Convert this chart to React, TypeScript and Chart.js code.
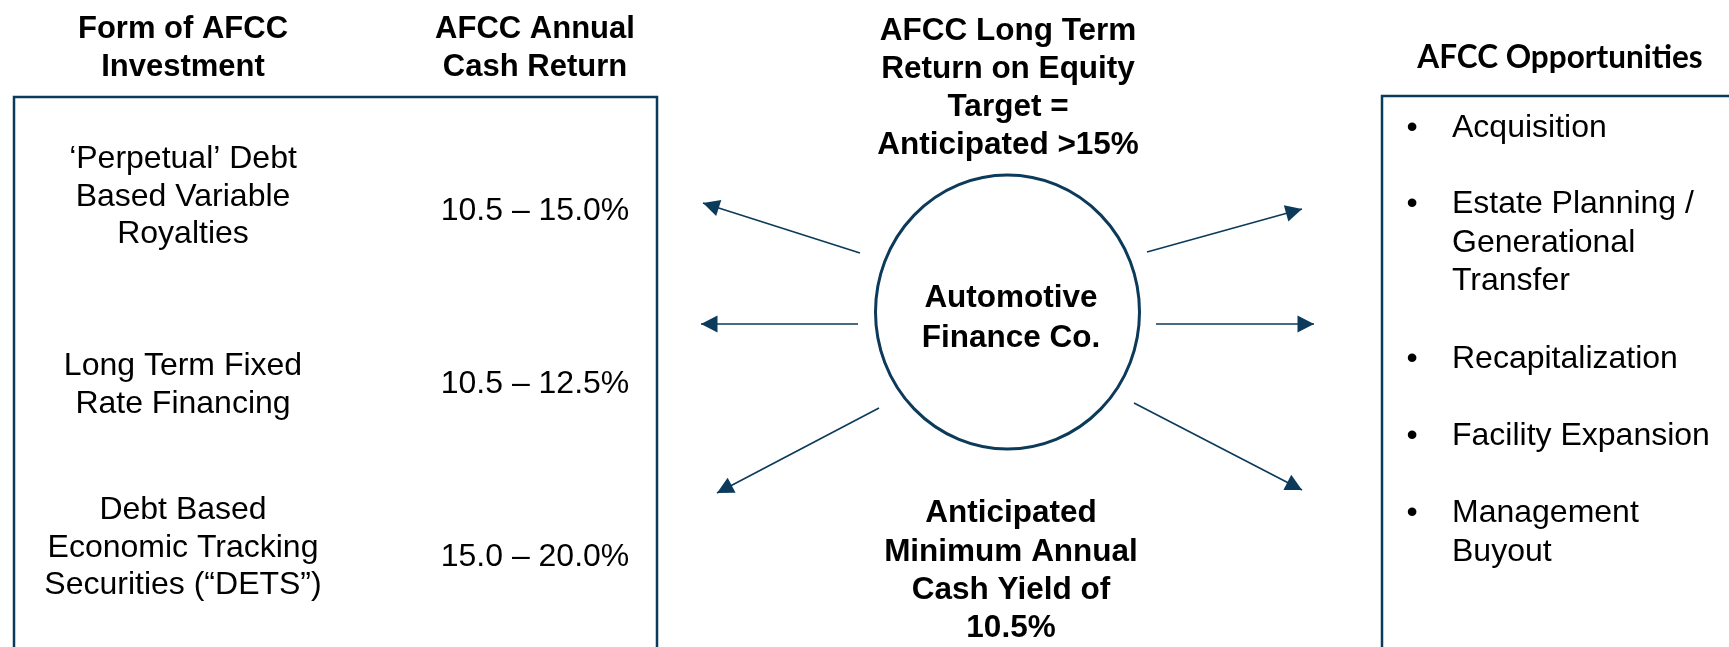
import React, { useEffect, useRef } from "react";
import { Chart, registerables } from "chart.js";

Chart.register(...registerables);

// ---------------- data ----------------
const investmentHeader = ["Form of AFCC", "Investment"];
const returnHeader = ["AFCC Annual", "Cash Return"];
const investmentForms = [
  ["‘Perpetual’ Debt", "Based Variable", "Royalties"],
  ["Long Term Fixed", "Rate Financing"],
  ["Debt Based", "Economic Tracking", "Securities (“DETS”)"],
];
const cashReturns = ["10.5 – 15.0%", "10.5 – 12.5%", "15.0 – 20.0%"];
const roeTarget = ["AFCC Long Term", "Return on Equity", "Target =", "Anticipated >15%"];
const companyName = ["Automotive", "Finance Co."];
const minYield = ["Anticipated", "Minimum Annual", "Cash Yield of", "10.5%"];
const opportunitiesHeader = "AFCC Opportunities";
const opportunities = [
  ["Acquisition"],
  ["Estate Planning /", "Generational", "Transfer"],
  ["Recapitalization"],
  ["Facility Expansion"],
  ["Management", "Buyout"],
];
// arrows in diagram units: [fromX, fromY, toX, toY]
const arrowsOut = [
  [860, 253, 703, 203],
  [858, 324, 701, 324],
  [879, 408, 717, 493],
  [1147, 252, 1302, 209],
  [1156, 324, 1314, 324],
  [1134, 403, 1302, 490],
];

// ---------------- layout / style ----------------
const W = 1729;
const H = 647;
const NAVY = "#0b3a5a";
const SANS = "'Liberation Sans', Arial, sans-serif";
const L = {
  col1X: 183,
  col2X: 535,
  headerBase: [38, 76],
  formFirstBase: [168, 375, 519],
  formLH: 37.7,
  returnBase: [220, 393, 566],
  leftBox: { x0: 14, y0: 97, x1: 657, y1: 700 },
  rightBox: { x0: 1382, y0: 96, x1: 1800, y1: 700 },
  centerX: 1008,
  roeBase: [40, 78, 116, 154],
  circle: { cx: 1007.5, cy: 312, rx: 132, ry: 137 },
  nameX: 1011,
  nameBase: [307, 347],
  yieldBase: [522, 561, 599, 637],
  oppHeaderX: 1560,
  oppHeaderBase: 68,
  bulletX: 1412,
  oppTextX: 1452,
  oppFirstBase: [137, 213, 368, 445, 522],
  oppLH: 38.5,
};

const diagramPlugin = {
  id: "diagram",
  afterDatasetsDraw(chart: any) {
    const { ctx } = chart;
    const xs = chart.scales.x;
    const ys = chart.scales.y;
    const px = (v: number) => xs.getPixelForValue(v);
    const py = (v: number) => ys.getPixelForValue(v);
    ctx.save();

    // arrowheads
    chart.data.datasets.forEach((_: any, i: number) => {
      const meta = chart.getDatasetMeta(i);
      const p0 = meta.data[0];
      const p1 = meta.data[1];
      const a = Math.atan2(p1.y - p0.y, p1.x - p0.x);
      const len = 16.5;
      const half = 8.5;
      const bx = p1.x - Math.cos(a) * len;
      const by = p1.y - Math.sin(a) * len;
      ctx.fillStyle = NAVY;
      ctx.beginPath();
      ctx.moveTo(p1.x, p1.y);
      ctx.lineTo(bx - Math.sin(a) * half, by + Math.cos(a) * half);
      ctx.lineTo(bx + Math.sin(a) * half, by - Math.cos(a) * half);
      ctx.closePath();
      ctx.fill();
    });

    // boxes
    ctx.strokeStyle = NAVY;
    ctx.lineWidth = 2.5;
    const lb = L.leftBox;
    ctx.strokeRect(px(lb.x0), py(lb.y0), px(lb.x1) - px(lb.x0), py(lb.y1) - py(lb.y0));
    const rb = L.rightBox;
    ctx.strokeRect(px(rb.x0), py(rb.y0), px(rb.x1) - px(rb.x0), py(rb.y1) - py(rb.y0));

    // circle
    const c = L.circle;
    ctx.lineWidth = 3;
    ctx.beginPath();
    ctx.ellipse(
      px(c.cx),
      py(c.cy),
      Math.abs(px(c.rx) - px(0)),
      Math.abs(py(c.ry) - py(0)),
      0,
      0,
      Math.PI * 2
    );
    ctx.stroke();

    // text
    ctx.fillStyle = "#000";
    ctx.textBaseline = "alphabetic";
    const text = (s: string, x: number, y: number, font: string, align: CanvasTextAlign) => {
      ctx.font = font;
      ctx.textAlign = align;
      ctx.fillText(s, px(x), py(y));
    };
    const boldHdr = `bold 31px ${SANS}`;
    const boldCtr = `bold 31.5px ${SANS}`;
    const body = `32px ${SANS}`;

    investmentHeader.forEach((s, i) => text(s, L.col1X, L.headerBase[i], boldHdr, "center"));
    returnHeader.forEach((s, i) => text(s, L.col2X, L.headerBase[i], boldHdr, "center"));
    investmentForms.forEach((lines, k) =>
      lines.forEach((s, i) => text(s, L.col1X, L.formFirstBase[k] + i * L.formLH, body, "center"))
    );
    cashReturns.forEach((s, k) => text(s, L.col2X, L.returnBase[k], body, "center"));

    roeTarget.forEach((s, i) => text(s, L.centerX, L.roeBase[i], boldCtr, "center"));
    companyName.forEach((s, i) => text(s, L.nameX, L.nameBase[i], boldCtr, "center"));
    minYield.forEach((s, i) => text(s, L.nameX, L.yieldBase[i], boldCtr, "center"));

    text(opportunitiesHeader, L.oppHeaderX, L.oppHeaderBase, `bold 31.5px Lato, 'Open Sans', sans-serif`, "center");
    opportunities.forEach((lines, k) => {
      text("•", L.bulletX, L.oppFirstBase[k], body, "center");
      lines.forEach((s, i) => text(s, L.oppTextX, L.oppFirstBase[k] + i * L.oppLH, body, "left"));
    });

    ctx.restore();
  },
};

export default function App() {
  const ref = useRef<HTMLCanvasElement>(null);
  useEffect(() => {
    document.body.style.margin = "0";
    document.body.style.overflow = "hidden";
    const chart = new Chart(ref.current as HTMLCanvasElement, {
      type: "scatter",
      data: {
        datasets: arrowsOut.map((a) => ({
          data: [
            { x: a[0], y: a[1] },
            { x: a[2], y: a[3] },
          ],
          showLine: true,
          borderColor: NAVY,
          borderWidth: 1.6,
          pointRadius: 0,
          pointHoverRadius: 0,
          fill: false,
        })),
      },
      options: {
        animation: false,
        responsive: false,
        maintainAspectRatio: false,
        devicePixelRatio: 1,
        events: [],
        layout: { padding: 0 },
        scales: {
          x: { type: "linear", min: 0, max: W, display: false },
          y: { type: "linear", min: 0, max: H, reverse: true, display: false },
        },
        plugins: { legend: { display: false }, tooltip: { enabled: false } },
      },
      plugins: [diagramPlugin],
    } as any);
    return () => chart.destroy();
  }, []);
  return (
    <div style={{ width: W, height: H, background: "#fff" }}>
      <canvas ref={ref} width={W} height={H} style={{ display: "block", width: W, height: H }} />
    </div>
  );
}
